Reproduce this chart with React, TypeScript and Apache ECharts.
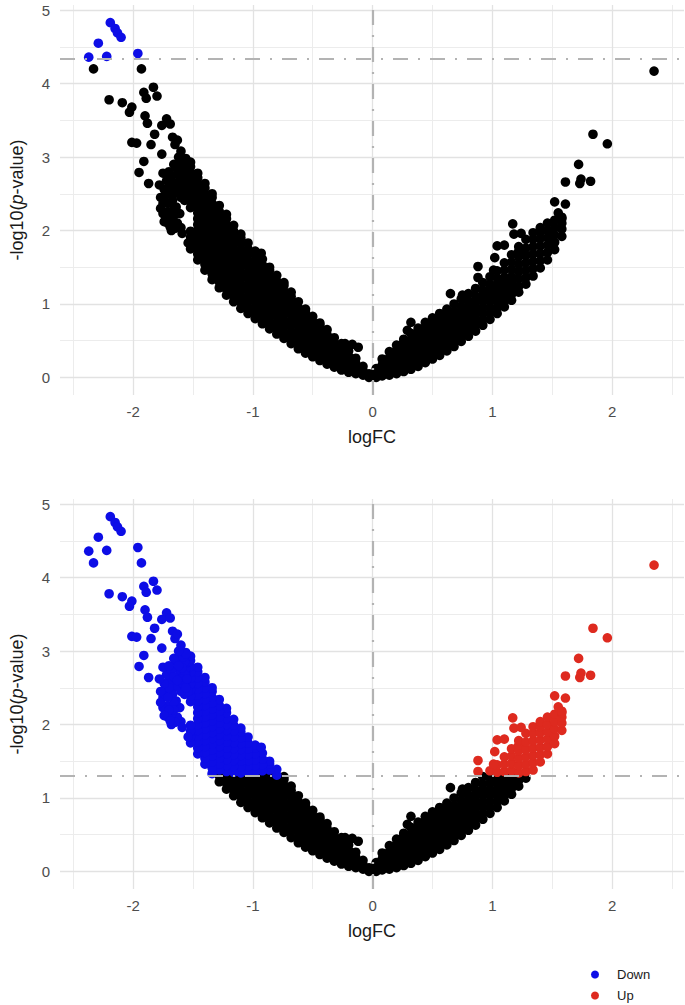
import React, { useEffect, useRef } from "react";
import * as echarts from "echarts";

// ---------- tick labels & grid positions ----------
const xTicks = [-2, -1, 0, 1, 2];
const yTicks = [0, 1, 2, 3, 4, 5];
const xMajor = [-2, -1, 0, 1, 2];
const xMinor = [-2.5, -1.5, -0.5, 0.5, 1.5, 2.5];
const yMajor = [0, 1, 2, 3, 4, 5];
const yMinor = [0.5, 1.5, 2.5, 3.5, 4.5];

// significance cut-offs (-log10 p)
const topCut = 4.34;
const bottomCut = 1.301;

// ---------- data: [logFC, -log10(p)] ----------
// dense left arm, read column by column: [logFC, [-log10 p ...]]
const leftArm: [number, number[]][] = [
  [-0.03, [0.0, 0.05]],
  [-0.08, [0.03, 0.09, 0.15]],
  [-0.14, [0.05, 0.12, 0.19, 0.26]],
  [-0.2, [0.07, 0.14, 0.22, 0.29, 0.36]],
  [-0.26, [0.1, 0.18, 0.26, 0.34, 0.42, 0.46]],
  [-0.32, [0.14, 0.22, 0.3, 0.38, 0.46, 0.54]],
  [-0.38, [0.18, 0.26, 0.34, 0.42, 0.5, 0.58, 0.65]],
  [-0.44, [0.23, 0.31, 0.39, 0.47, 0.55, 0.63, 0.71, 0.74]],
  [-0.5, [0.28, 0.36, 0.44, 0.52, 0.6, 0.68, 0.76, 0.83]],
  [-0.56, [0.33, 0.41, 0.49, 0.57, 0.65, 0.73, 0.81, 0.88, 0.93]],
  [-0.62, [0.39, 0.47, 0.55, 0.63, 0.71, 0.79, 0.87, 0.95, 1.03]],
  [-0.68, [0.46, 0.54, 0.62, 0.7, 0.78, 0.86, 0.94, 1.02, 1.1, 1.16]],
  [-0.74, [0.53, 0.61, 0.69, 0.77, 0.85, 0.93, 1.01, 1.09, 1.17, 1.25, 1.29]],
  [-0.8, [0.59, 0.67, 0.75, 0.83, 0.91, 0.99, 1.07, 1.15, 1.23, 1.31, 1.39]],
  [-0.86, [0.66, 0.74, 0.82, 0.9, 0.98, 1.06, 1.14, 1.22, 1.3, 1.38, 1.46, 1.5]],
  [-0.92, [0.73, 0.81, 0.89, 0.97, 1.05, 1.13, 1.21, 1.29, 1.37, 1.45, 1.53, 1.61]],
  [-0.98, [0.8, 0.88, 0.96, 1.04, 1.12, 1.2, 1.28, 1.36, 1.44, 1.52, 1.6, 1.68, 1.72]],
  [-1.04, [0.87, 0.95, 1.03, 1.11, 1.19, 1.27, 1.35, 1.43, 1.51, 1.59, 1.67, 1.75, 1.83]],
  [-1.1, [0.94, 1.02, 1.1, 1.18, 1.26, 1.34, 1.42, 1.5, 1.58, 1.66, 1.74, 1.82, 1.9, 1.95]],
  [-1.16, [1.03, 1.11, 1.19, 1.27, 1.35, 1.43, 1.51, 1.59, 1.67, 1.75, 1.83, 1.91, 1.99, 2.07]],
  [-1.22, [1.12, 1.2, 1.28, 1.36, 1.44, 1.52, 1.6, 1.68, 1.76, 1.84, 1.92, 2.0, 2.08, 2.16, 2.22]],
  [-1.28, [1.22, 1.3, 1.38, 1.46, 1.54, 1.62, 1.7, 1.78, 1.86, 1.94, 2.02, 2.1, 2.18, 2.26, 2.34]],
  [-1.34, [1.33, 1.41, 1.49, 1.57, 1.65, 1.73, 1.81, 1.89, 1.97, 2.05, 2.13, 2.21, 2.29, 2.37, 2.45, 2.5]],
  [-1.4, [1.46, 1.54, 1.62, 1.7, 1.78, 1.86, 1.94, 2.02, 2.1, 2.18, 2.26, 2.34, 2.42, 2.5, 2.58, 2.64]],
  [-1.46, [1.6, 1.68, 1.76, 1.84, 1.92, 2.0, 2.08, 2.16, 2.24, 2.32, 2.4, 2.48, 2.56, 2.64, 2.72, 2.78]],
  [-1.52, [1.75, 1.83, 1.91, 1.99, 2.31, 2.39, 2.47, 2.55, 2.63, 2.71, 2.79, 2.87, 2.93]],
  [-1.56, [2.6, 2.68, 2.76, 2.84, 2.92, 2.98]],
];

// dense right arm, column by column
const rightArm: [number, number[]][] = [
  [0.03, [0.0, 0.06, 0.12]],
  [0.08, [0.02, 0.09, 0.17, 0.25]],
  [0.14, [0.03, 0.11, 0.19, 0.27, 0.35]],
  [0.2, [0.05, 0.13, 0.21, 0.29, 0.37, 0.44]],
  [0.26, [0.08, 0.16, 0.24, 0.32, 0.4, 0.48, 0.52]],
  [0.32, [0.11, 0.19, 0.27, 0.35, 0.43, 0.51, 0.6]],
  [0.38, [0.15, 0.23, 0.31, 0.39, 0.47, 0.55, 0.63, 0.67]],
  [0.44, [0.2, 0.28, 0.36, 0.44, 0.52, 0.6, 0.68, 0.75]],
  [0.5, [0.25, 0.33, 0.41, 0.49, 0.57, 0.65, 0.73, 0.81]],
  [0.56, [0.3, 0.38, 0.46, 0.54, 0.62, 0.7, 0.78, 0.87]],
  [0.62, [0.36, 0.44, 0.52, 0.6, 0.68, 0.76, 0.84, 0.93]],
  [0.68, [0.42, 0.5, 0.58, 0.66, 0.74, 0.82, 0.9, 1.0]],
  [0.74, [0.49, 0.57, 0.65, 0.73, 0.81, 0.89, 0.97, 1.07]],
  [0.8, [0.56, 0.64, 0.72, 0.8, 0.88, 0.96, 1.04, 1.14]],
  [0.86, [0.63, 0.71, 0.79, 0.87, 0.95, 1.03, 1.11, 1.21]],
  [0.92, [0.71, 0.79, 0.87, 0.95, 1.03, 1.11, 1.19, 1.29]],
  [0.98, [0.79, 0.87, 0.95, 1.03, 1.11, 1.19, 1.27, 1.37]],
  [1.04, [0.87, 0.95, 1.03, 1.11, 1.19, 1.27, 1.35, 1.45]],
  [1.1, [0.96, 1.04, 1.12, 1.2, 1.28, 1.36, 1.46, 1.56]],
  [1.16, [1.05, 1.13, 1.21, 1.29, 1.37, 1.47, 1.57, 1.67]],
  [1.22, [1.16, 1.24, 1.34, 1.44, 1.54, 1.64, 1.72, 1.78]],
  [1.28, [1.27, 1.36, 1.46, 1.56, 1.66, 1.76, 1.88]],
  [1.34, [1.38, 1.48, 1.58, 1.68, 1.78, 1.88, 1.97]],
  [1.4, [1.49, 1.59, 1.69, 1.79, 1.89, 1.97, 2.04]],
  [1.46, [1.6, 1.7, 1.8, 1.9, 2.0, 2.1]],
  [1.52, [1.74, 1.84, 1.94, 2.04, 2.14]],
  [1.58, [1.92, 2.02, 2.1, 2.16]],
];

// semi-dense cluster at the top of the left arm
const leftCluster: [number, number][] = [
  [-1.6, 2.04], [-1.59, 1.96], [-1.54, 1.83], [-1.63, 2.1], [-1.61, 2.23], [-1.64, 2.32],
  [-1.57, 2.41], [-1.54, 2.45], [-1.6, 2.45], [-1.64, 2.51], [-1.67, 2.41], [-1.65, 2.03],
  [-1.68, 2.14], [-1.68, 2.0], [-1.72, 2.25], [-1.75, 2.23], [-1.75, 2.37], [-1.73, 2.48],
  [-1.69, 2.59], [-1.72, 2.68], [-1.75, 2.78], [-1.64, 2.85], [-1.61, 2.72], [-1.57, 2.68],
  [-1.6, 2.62], [-1.68, 2.74], [-1.66, 2.3], [-1.71, 2.1], [-1.77, 2.3], [-1.62, 2.9],
  [-1.57, 2.85], [-1.58, 2.55], [-1.66, 2.65], [-1.7, 2.5], [-1.71, 2.37],
  [-1.74, 2.56], [-1.77, 2.45], [-1.78, 2.62], [-1.7, 2.8], [-1.66, 2.9], [-1.59, 2.77],
  [-1.55, 2.62], [-1.62, 2.8], [-1.66, 2.2], [-1.7, 2.2], [-1.74, 2.12], [-1.63, 2.6],
  [-1.58, 2.92], [-1.69, 2.05], [-1.56, 2.5],
];

// isolated points on the left
const leftOutliers: [number, number][] = [
  [-2.37, 4.36], [-2.29, 4.55], [-2.22, 4.37], [-2.19, 4.83], [-2.15, 4.75], [-2.13, 4.69],
  [-2.1, 4.63], [-1.96, 4.41], [-2.33, 4.2], [-1.93, 4.2], [-2.2, 3.78], [-2.09, 3.74],
  [-2.01, 3.68], [-2.03, 3.61], [-1.91, 3.88], [-1.83, 3.95], [-1.89, 3.8], [-1.8, 3.83],
  [-1.9, 3.56], [-1.88, 3.46], [-1.72, 3.52], [-1.76, 3.43], [-1.69, 3.45], [-1.82, 3.31],
  [-2.01, 3.2], [-1.97, 3.19], [-1.85, 3.17], [-1.76, 3.04], [-1.67, 3.27], [-1.65, 3.17],
  [-1.6, 3.08], [-1.63, 3.23], [-1.91, 2.94], [-1.95, 2.79], [-1.87, 2.64], [-1.56, 2.96],
  [-1.62, 3.0], [-0.93, 1.69], [-0.23, 0.46], [-0.12, 0.41], [-0.17, 0.45],
];

// isolated points on the right
const rightOutliers: [number, number][] = [
  [0.29, 0.64], [0.32, 0.75], [0.65, 1.14], [0.75, 1.12], [0.88, 1.51], [0.88, 1.36],
  [1.02, 1.63], [1.01, 1.46], [1.04, 1.79], [1.1, 1.8], [1.17, 2.09], [1.18, 1.95],
  [1.24, 1.96], [1.52, 2.39], [1.61, 2.36], [1.55, 2.24], [1.58, 2.18], [1.61, 2.66],
  [1.72, 2.9], [1.73, 2.64], [1.74, 2.7], [1.82, 2.67], [1.84, 3.31], [1.96, 3.18],
  [2.35, 4.17],
];

const legendNames = ["Down", "Up"];

const FONT = "'Liberation Sans', Arial, Helvetica, sans-serif";
const TICK_COLOR = "#4d4d4d";
const TITLE_COLOR = "#1a1a1a";
const BLUE = "#0d0de6";
const RED = "#de2a1f";

function allGenes(): [number, number][] {
  const out: [number, number][] = [];
  for (const [fc, vs] of leftArm) for (const v of vs) out.push([fc, v]);
  for (const [fc, vs] of rightArm) for (const v of vs) out.push([fc, v]);
  for (const p of leftCluster) out.push(p);
  for (const p of leftOutliers) out.push(p);
  for (const p of rightOutliers) out.push(p);
  return out;
}

function classify(cut: number) {
  const ns: [number, number][] = [];
  const down: [number, number][] = [];
  const up: [number, number][] = [];
  for (const g of allGenes()) {
    if (g[1] > cut && g[0] < 0) down.push(g);
    else if (g[1] > cut && g[0] > 0) up.push(g);
    else ns.push(g);
  }
  return { ns, down, up };
}

function panelSeries(idx: number, cut: number) {
  const { ns, down, up } = classify(cut);
  const minor = { color: "#ececec", width: 1, type: "solid" };
  const major = { color: "#e2e2e2", width: 1.3, type: "solid" };
  const gridLines = [
    ...xMinor.map((x) => ({ xAxis: x, lineStyle: minor })),
    ...yMinor.map((y) => ({ yAxis: y, lineStyle: minor })),
    ...xMajor.map((x) => ({ xAxis: x, lineStyle: major })),
    ...yMajor.map((y) => ({ yAxis: y, lineStyle: major })),
  ];
  const dash = { color: "#b3b3b3", width: 2.2, type: [15, 10, 2, 10] as number[] };
  const pt = (name: string, data: [number, number][], color: string) => ({
    type: "scatter",
    name,
    xAxisIndex: idx,
    yAxisIndex: idx,
    data,
    symbol: "circle",
    symbolSize: 9.6,
    itemStyle: { color, opacity: 1 },
    emphasis: { disabled: true },
    z: 2,
  });
  return [
    {
      type: "scatter",
      name: "grid" + idx,
      xAxisIndex: idx,
      yAxisIndex: idx,
      data: [],
      silent: true,
      z: 0,
      markLine: {
        silent: true,
        z: 0,
        symbol: ["none", "none"],
        label: { show: false },
        emphasis: { disabled: true },
        lineStyle: { type: "solid" },
        data: gridLines,
      },
    },
    pt("NS", ns, "#000000"),
    pt("Down", down, BLUE),
    pt("Up", up, RED),
    {
      type: "scatter",
      name: "cut" + idx,
      xAxisIndex: idx,
      yAxisIndex: idx,
      data: [],
      silent: true,
      z: 10,
      markLine: {
        silent: true,
        z: 10,
        symbol: ["none", "none"],
        label: { show: false },
        emphasis: { disabled: true },
        lineStyle: dash,
        data: [{ yAxis: cut }, { xAxis: 0 }],
      },
    },
  ];
}

function xAxis(idx: number) {
  return {
    type: "value",
    gridIndex: idx,
    min: -2.61,
    max: 2.6,
    axisLine: { show: false },
    axisTick: { show: false },
    splitLine: { show: false },
    axisLabel: {
      customValues: xTicks,
      color: TICK_COLOR,
      fontSize: 15,
      fontFamily: FONT,
      margin: 9,
    },
    name: "logFC",
    nameLocation: "middle",
    nameGap: 33,
    nameTextStyle: { fontSize: 18, color: TITLE_COLOR, fontFamily: FONT },
  };
}

function yAxis(idx: number) {
  return {
    type: "value",
    gridIndex: idx,
    min: -0.24,
    max: 5.07,
    axisLine: { show: false },
    axisTick: { show: false },
    splitLine: { show: false },
    axisLabel: {
      customValues: yTicks,
      color: TICK_COLOR,
      fontSize: 15,
      fontFamily: FONT,
      margin: 10,
    },
    name: "{n|-log10(}{i|p}{n|-value)}",
    nameLocation: "middle",
    nameGap: 34,
    nameTextStyle: {
      fontSize: 18,
      color: TITLE_COLOR,
      fontFamily: FONT,
      rich: {
        n: { fontSize: 18, color: TITLE_COLOR, fontFamily: FONT },
        i: { fontSize: 18, color: TITLE_COLOR, fontFamily: FONT, fontStyle: "italic" },
      },
    },
  };
}

function legendFor(name: string, top: number) {
  return {
    data: [name],
    orient: "vertical",
    left: 586,
    top,
    icon: "circle",
    itemWidth: 8,
    itemHeight: 8,
    selectedMode: false,
    textStyle: {
      fontSize: 13,
      color: TITLE_COLOR,
      fontFamily: FONT,
      padding: [0, 0, 0, 13],
    },
  };
}

export default function App() {
  const ref = useRef<HTMLDivElement>(null);
  useEffect(() => {
    document.body.style.margin = "0";
    if (!ref.current) return;
    const chart = echarts.init(ref.current, undefined, { renderer: "svg" });
    chart.setOption({
      animation: false,
      backgroundColor: "#ffffff",
      grid: [
        { left: 50, right: 1, top: 5, height: 390 },
        { left: 50, right: 1, top: 499, height: 390 },
      ],
      xAxis: [xAxis(0), xAxis(1)],
      yAxis: [yAxis(0), yAxis(1)],
      legend: [legendFor(legendNames[0], 963), legendFor(legendNames[1], 984)],
      series: [...panelSeries(0, topCut), ...panelSeries(1, bottomCut)],
    });
    return () => chart.dispose();
  }, []);
  return <div ref={ref} style={{ width: 685, height: 1005 }} />;
}
